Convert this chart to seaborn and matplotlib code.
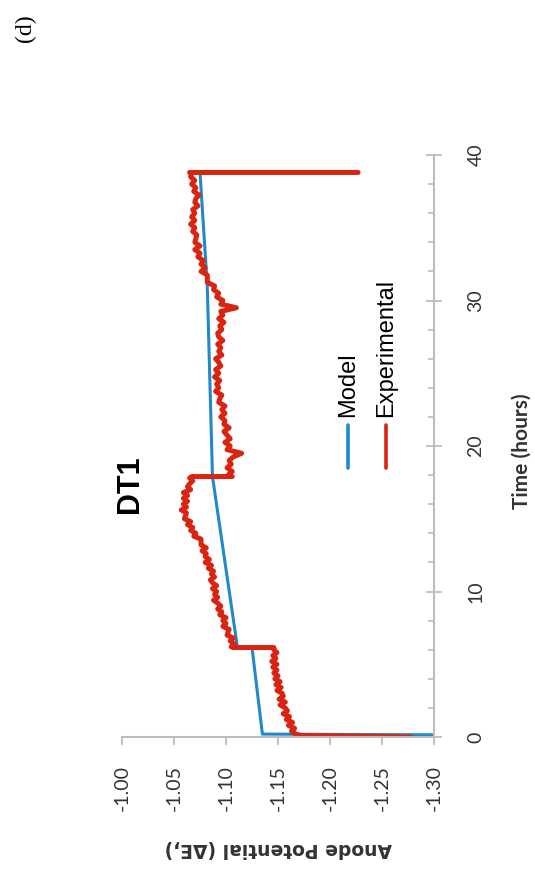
import numpy as np
import pandas as pd
import matplotlib
matplotlib.use("Agg")
import matplotlib.pyplot as plt
from matplotlib.lines import Line2D
from matplotlib.ticker import MultipleLocator
import seaborn as sns

# ---- data -------------------------------------------------------------
# Model: anode potential vs time (hours)
model_time = [0.15, 0.2, 6.15, 6.15, 17.9, 31.0, 38.8]
model_pot = [-1.30, -1.135, -1.125, -1.111, -1.087, -1.082, -1.075]

# Experimental record, split at the two load steps
exp_time_a = [0.0, 0.1, 0.2, 0.4, 0.6, 0.8, 1.0, 1.2, 1.4, 1.6, 1.8, 2.0,
              2.2, 2.4, 2.6, 2.8, 3.0, 3.2, 3.4, 3.6, 3.8, 4.0, 4.2, 4.4,
              4.6, 4.8, 5.0, 5.2, 5.4, 5.6, 5.8, 6.0, 6.15]
exp_pot_a = [-1.278, -1.172, -1.167, -1.163, -1.166, -1.160, -1.164,
             -1.158, -1.161, -1.155, -1.159, -1.157, -1.152, -1.157,
             -1.151, -1.155, -1.154, -1.149, -1.153, -1.148, -1.152,
             -1.147, -1.150, -1.146, -1.149, -1.145, -1.149, -1.144,
             -1.148, -1.145, -1.149, -1.146, -1.146]

exp_time_b = [6.15, 6.2, 6.4, 6.6, 6.8, 7.0, 7.2, 7.4, 7.6, 7.8, 8.0, 8.2,
              8.4, 8.6, 8.8, 9.0, 9.2, 9.4, 9.6, 9.8, 10.0, 10.2, 10.4,
              10.6, 10.8, 11.0, 11.2, 11.4, 11.6, 11.8, 12.0, 12.2, 12.4,
              12.6, 12.8, 13.0, 13.2, 13.4, 13.6, 13.8, 14.0, 14.2, 14.4,
              14.6, 14.8, 15.0, 15.2, 15.4, 15.6, 15.8, 16.0, 16.2, 16.4,
              16.6, 16.8, 17.0, 17.2, 17.4, 17.6, 17.8, 17.9]
exp_pot_b = [-1.107, -1.105, -1.108, -1.104, -1.107, -1.101, -1.102,
             -1.103, -1.097, -1.100, -1.097, -1.100, -1.094, -1.096,
             -1.092, -1.095, -1.092, -1.088, -1.092, -1.089, -1.091,
             -1.087, -1.091, -1.087, -1.085, -1.089, -1.086, -1.088,
             -1.083, -1.086, -1.080, -1.084, -1.080, -1.081, -1.077,
             -1.081, -1.076, -1.076, -1.076, -1.069, -1.071, -1.066,
             -1.068, -1.063, -1.066, -1.060, -1.061, -1.062, -1.057,
             -1.062, -1.059, -1.063, -1.059, -1.063, -1.059, -1.066,
             -1.063, -1.065, -1.068, -1.065, -1.067]

exp_time_c = [17.9, 18.0, 18.25, 18.5, 18.75, 19.0, 19.25, 19.5, 19.75,
              20.0, 20.25, 20.5, 20.75, 21.0, 21.25, 21.5, 21.75, 22.0,
              22.25, 22.5, 22.75, 23.0, 23.25, 23.5, 23.75, 24.0, 24.25,
              24.5, 24.75, 25.0, 25.25, 25.5, 25.75, 26.0, 26.25, 26.5,
              26.75, 27.0, 27.25, 27.5, 27.75, 28.0, 28.25, 28.5, 28.75,
              29.0, 29.25, 29.5, 29.75, 30.0, 30.25, 30.5, 30.75, 31.0,
              31.25, 31.5, 31.75, 32.0, 32.25, 32.5, 32.75, 33.0, 33.25,
              33.5, 33.75, 34.0, 34.25, 34.5, 34.75, 35.0, 35.25, 35.5,
              35.75, 36.0, 36.25, 36.5, 36.75, 37.0, 37.25, 37.5, 37.75,
              38.0, 38.25, 38.5, 38.75, 38.8, 38.8]
exp_pot_c = [-1.106, -1.102, -1.106, -1.101, -1.105, -1.103, -1.107,
             -1.115, -1.101, -1.104, -1.099, -1.104, -1.101, -1.098,
             -1.103, -1.098, -1.099, -1.095, -1.099, -1.096, -1.099,
             -1.093, -1.094, -1.096, -1.090, -1.093, -1.091, -1.094,
             -1.089, -1.093, -1.090, -1.095, -1.093, -1.090, -1.096,
             -1.093, -1.095, -1.092, -1.097, -1.093, -1.092, -1.096,
             -1.094, -1.098, -1.093, -1.097, -1.095, -1.110, -1.095,
             -1.097, -1.091, -1.093, -1.088, -1.089, -1.082, -1.082,
             -1.082, -1.076, -1.080, -1.076, -1.078, -1.073, -1.075,
             -1.070, -1.075, -1.070, -1.071, -1.072, -1.068, -1.070,
             -1.066, -1.070, -1.067, -1.070, -1.068, -1.073, -1.070,
             -1.071, -1.074, -1.069, -1.071, -1.067, -1.070, -1.066,
             -1.067, -1.065, -1.227]

pot_ticks = [-1.00, -1.05, -1.10, -1.15, -1.20, -1.25, -1.30]
time_ticks = [0, 10, 20, 30, 40]
series_names = ["Model", "Experimental"]
series_colors = ["#2188c9", "#d92412"]

model_df = pd.DataFrame({"time": model_time, "potential": model_pot})
exp_df = pd.DataFrame({
    "time": exp_time_a + exp_time_b + exp_time_c,
    "potential": exp_pot_a + exp_pot_b + exp_pot_c,
})

# ---- style --------------------------------------------------------------
sns.set_theme(style="white")
plt.rcParams["font.family"] = ["Lato", "DejaVu Sans"]
axis_grey = "#bdbdbd"

fig = plt.figure(figsize=(5.35, 8.77), dpi=100)
W, H = 535, 877
ax = fig.add_axes([122 / W, 140 / H, (434 - 122) / W, (737 - 155) / H])

# The chart is laid out sideways: time runs upward, potential runs rightward.
sns.lineplot(data=model_df, x="potential", y="time", sort=False,
             estimator=None, color=series_colors[0], lw=2.2, ax=ax)
sns.lineplot(data=exp_df, x="potential", y="time", sort=False,
             estimator=None, color=series_colors[1], lw=3.6, ax=ax)

ax.set_xlim(-1.00, -1.30)
ax.set_ylim(0, 40)
ax.set_xlabel("")
ax.set_ylabel("")

for side in ("top", "left"):
    ax.spines[side].set_visible(False)
for side in ("bottom", "right"):
    ax.spines[side].set_color(axis_grey)
    ax.spines[side].set_linewidth(1.5)

ax.set_xticks(pot_ticks)
ax.set_xticklabels([f"{v:.2f}" for v in pot_ticks])
ax.tick_params(axis="x", bottom=True, direction="out", length=6,
               width=1.3, color=axis_grey, pad=14, labelsize=14,
               labelcolor="#333333", labelrotation=90)

ax.yaxis.tick_right()
ax.set_yticks(time_ticks)
ax.yaxis.set_minor_locator(MultipleLocator(2))
ax.tick_params(axis="y", which="major", right=True, left=False,
               direction="inout", length=12, width=1.3, color=axis_grey,
               pad=18, labelsize=14, labelcolor="#333333", labelrotation=90)
ax.tick_params(axis="y", which="minor", right=True, left=False,
               direction="in", length=4, width=1.2, color=axis_grey)
for lab in ax.get_yticklabels():
    lab.set_va("center")

# Axis titles
fig.text(278 / W, 1 - 848 / H, "Anode Potential (ΔE,)", rotation=180,
         ha="center", va="center", fontsize=13.5, fontweight="bold",
         family=["DejaVu Sans"], color="#333333")
fig.text(522 / W, 1 - 451 / H, "Time (hours)", rotation=90,
         ha="center", va="center", fontsize=15, fontweight="bold",
         color="#333333")

# Panel title and tag
fig.text(130 / W, 1 - 484 / H, "DT1", rotation=90, ha="center",
         va="center", fontsize=22, fontweight="bold",
         family=["Liberation Sans"], color="black")
fig.text(25 / W, 1 - 28 / H, "(d)", rotation=90, ha="center",
         va="center", fontsize=17, family=["Liberation Serif"],
         color="black")

# Legend drawn sideways to follow the rotated layout
for name, color, xc in zip(series_names, series_colors, [348, 386]):
    fig.add_artist(Line2D([xc / W, xc / W], [1 - 468 / H, 1 - 425 / H],
                          color=color, lw=2.6, transform=fig.transFigure))
    fig.text(xc / W, 1 - 417 / H, name, rotation=90, ha="center",
             va="bottom", fontsize=17, family=["Liberation Sans"],
             color="black")

fig.savefig("out.png", dpi=100, facecolor="white")
